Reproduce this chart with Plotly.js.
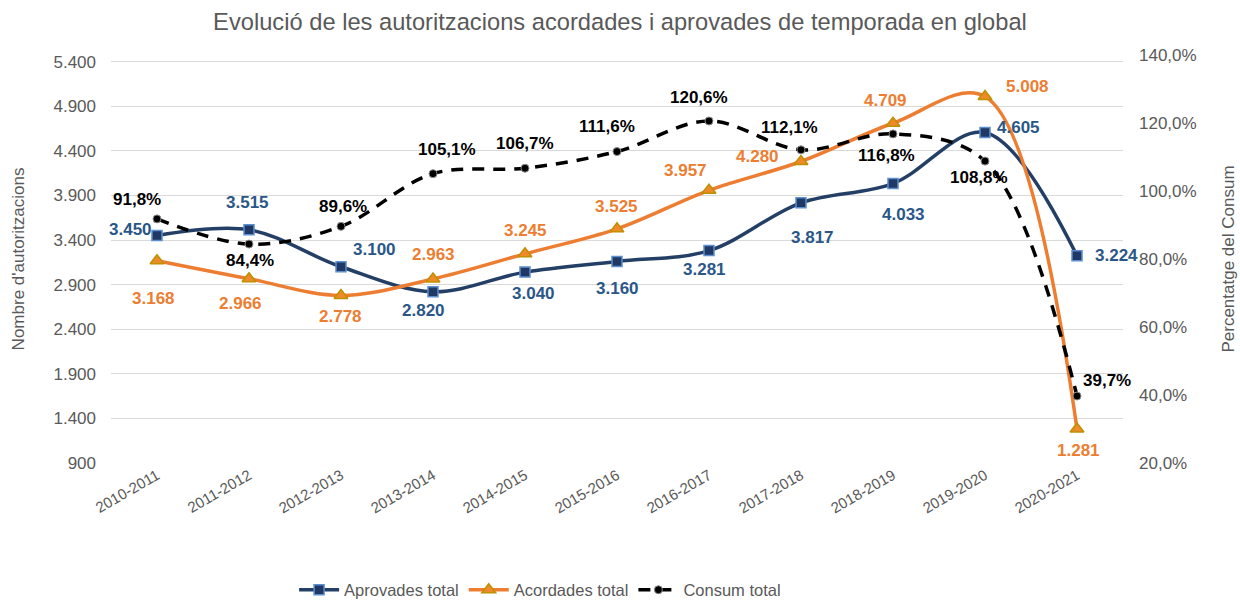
<!DOCTYPE html>
<html>
<head>
<meta charset="utf-8">
<script src="https://cdn.plot.ly/plotly-3.0.1.min.js"></script>
<style>html,body{margin:0;padding:0;background:#fff;}#chart{width:1240px;height:601px;}</style>
</head>
<body>
<div id="chart"></div>
<script>
const categories = ["2010-2011","2011-2012","2012-2013","2013-2014","2014-2015","2015-2016","2016-2017","2017-2018","2018-2019","2019-2020","2020-2021"];
const aprovades = [3450, 3515, 3100, 2820, 3040, 3160, 3281, 3817, 4033, 4605, 3224];
const acordades = [3168, 2966, 2778, 2963, 3245, 3525, 3957, 4280, 4709, 5008, 1281];
const consum = [91.8, 84.4, 89.6, 105.1, 106.7, 111.6, 120.6, 112.1, 116.8, 108.8, 39.7];

// label offsets in screen pixels [dx, dy]
const offAprov = [[-27,-6],[-2,-27],[33,-17],[-10,19],[8,21],[0,27],[-5,19],[11,35],[10,31],[33,-5],[39,0]];
const offAcord = [[-4,38],[-9,25],[-1,21],[0,-24],[0,-23],[-1,-22],[-24,-20],[-44,-5],[-8,-23],[42,-10],[1,21]];
const offCons = [[-20,-19],[1,16],[2,-20],[14,-24],[0,-25],[-10,-25],[-10,-23],[-12,-22],[-7,22],[-6,16],[30,-16]];

const FONT = '"Liberation Sans", Arial, sans-serif';
const cBlueLine = '#243F66', cBlueLbl = '#2A5788', cOrange = '#ED7D31', cGrey = '#595959';

function fmtInt(v){ return String(v).replace(/\B(?=(\d{3})+(?!\d))/g, '.'); }
function fmtPct(v){ return v.toFixed(1).replace('.', ',') + '%'; }

const traces = [
  {x: categories, y: aprovades, name: 'Aprovades total', type: 'scatter', mode: 'lines+markers',
   line: {color: cBlueLine, width: 3.5, shape: 'spline', smoothing: 1},
   marker: {symbol: 'square', size: 10, color: '#1F3864', line: {color: '#5B8FD0', width: 1.5}}},
  {x: categories, y: acordades, name: 'Acordades total', type: 'scatter', mode: 'lines+markers',
   line: {color: cOrange, width: 3.5, shape: 'spline', smoothing: 1},
   marker: {symbol: 'triangle-up', size: 12, color: '#EE8A2A', line: {color: '#BF9000', width: 1.5}}},
  {x: categories, y: consum, name: 'Consum total', type: 'scatter', mode: 'lines+markers', yaxis: 'y2',
   line: {color: '#000000', width: 3.5, shape: 'spline', smoothing: 1, dash: '12px,9px'},
   marker: {symbol: 'circle', size: 8, color: '#000000', line: {color: '#8C8C8C', width: 1}}}
];

const annotations = [];
categories.forEach((c, i) => {
  annotations.push({x: c, y: aprovades[i], xref: 'x', yref: 'y', text: fmtInt(aprovades[i]), showarrow: false,
    xshift: offAprov[i][0], yshift: -offAprov[i][1], font: {family: FONT, size: 17, color: cBlueLbl, weight: 'bold'}});
  annotations.push({x: c, y: acordades[i], xref: 'x', yref: 'y', text: fmtInt(acordades[i]), showarrow: false,
    xshift: offAcord[i][0], yshift: -offAcord[i][1], font: {family: FONT, size: 17, color: cOrange, weight: 'bold'}});
  annotations.push({x: c, y: consum[i], xref: 'x', yref: 'y2', text: fmtPct(consum[i]), showarrow: false,
    xshift: offCons[i][0], yshift: -offCons[i][1], font: {family: FONT, size: 17, color: '#000000', weight: 'bold'}});
});

const layout = {
  width: 1240, height: 601,
  margin: {l: 111, r: 117, t: 55, b: 138},
  paper_bgcolor: '#ffffff', plot_bgcolor: '#ffffff',
  separators: ',.',
  font: {family: FONT, color: cGrey, size: 16},
  title: {text: 'Evolució de les autoritzacions acordades i aprovades de temporada en global',
    font: {family: FONT, size: 23.7, color: cGrey}, x: 0.5, xanchor: 'center', y: 1 - 22/601, yanchor: 'middle', yref: 'container', automargin: false},
  xaxis: {type: 'category', tickangle: -30, tickfont: {family: FONT, size: 15, color: cGrey}, automargin: false,
    showgrid: false, zeroline: false, showline: false, ticks: '', range: [-0.5, 10.5]},
  yaxis: {range: [900, 5474], tick0: 900, dtick: 500, tickformat: ',d', showgrid: true, gridcolor: '#D9D9D9', gridwidth: 1,
    zeroline: false, showline: false, ticks: '', ticklabelstandoff: 14, automargin: false,
    tickfont: {family: FONT, size: 17, color: cGrey},
    title: {text: "Nombre d'autoritzacions", font: {family: FONT, size: 17, color: cGrey}, standoff: 24}},
  yaxis2: {overlaying: 'y', side: 'right', range: [20, 140], tick0: 20, dtick: 20, tickformat: '.1f', ticksuffix: '%',
    showgrid: false, zeroline: false, showline: false, ticks: '', ticklabelstandoff: 15, automargin: false,
    tickfont: {family: FONT, size: 17, color: cGrey},
    title: {text: 'Percentatge del Consum', font: {family: FONT, size: 17, color: cGrey}, standoff: 26}},
  showlegend: true,
  legend: {orientation: 'h', x: 0.424, xanchor: 'center', xref: 'paper', y: 1 - 590/601, yanchor: 'middle', yref: 'container',
    font: {family: FONT, size: 16.5, color: cGrey}, itemwidth: 40, traceorder: 'normal'},
  annotations: annotations
};

Plotly.newPlot('chart', traces, layout, {displayModeBar: false, staticPlot: true});
</script>
</body>
</html>
